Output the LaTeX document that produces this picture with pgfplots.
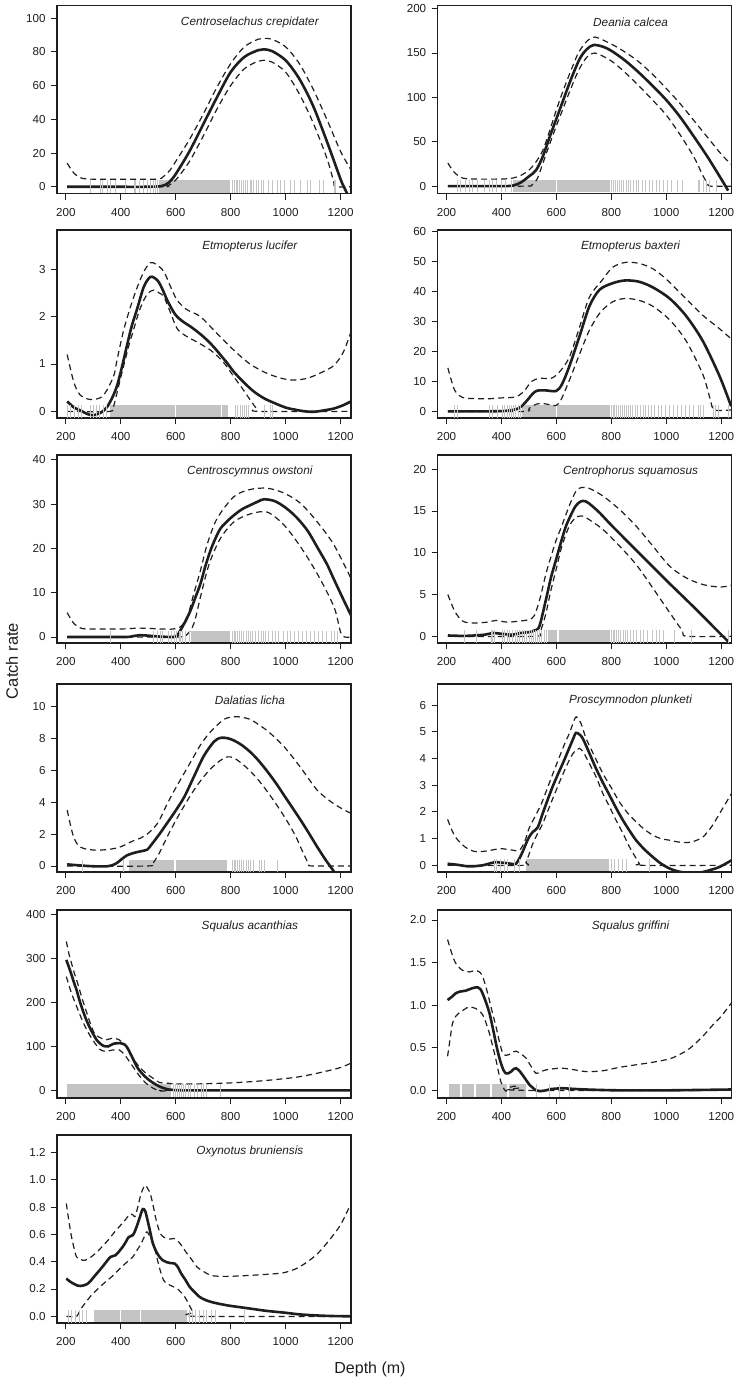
\documentclass[border=0pt]{standalone}
\usepackage{fontspec}
\setmainfont{Liberation Sans}
\usepackage{pgfplots}
\pgfplotsset{compat=1.18}
\definecolor{rugc}{RGB}{196,196,196}
\definecolor{ink}{RGB}{30,30,30}
\pgfplotsset{
  panel/.style={
    scale only axis, width=294pt, height=188pt,
    xmin=168, xmax=1238,
    xtick={200,400,...,1200},
    tick pos=left, tick align=outside,
    major tick length=6pt,
    axis on top,
    axis line style={line width=1.1pt, ink},
    every tick/.style={line width=0.9pt, ink},
    ticklabel style={font=\fontsize{11.6}{13}\selectfont, text=ink},
    xticklabel style={yshift=-5pt},
    yticklabel style={xshift=-2pt},
    /pgf/number format/1000 sep={},
    /pgf/number format/assume math mode=true,
    anchor=north west,
  },
  fit/.style={line width=2.6pt, ink, smooth},
  ci/.style={line width=1.2pt, ink, dash pattern=on 6pt off 4pt, smooth},
  rugt/.style={only marks, mark=|, mark size=6.3pt, mark options={line width=0.7pt, draw=rugc}},
  rugb/.style={draw=rugc, line width=12.6pt},
}
\newcommand{\ttl}[1]{\node[font=\itshape\fontsize{11.8}{13}\selectfont, text=ink] at (axis description cs:0.656,0.912) {#1};}
\begin{document}
\begin{tikzpicture}
\path[use as bounding box] (0,0) rectangle (739pt,-1384pt);

% ---------- P1 Centroselachus crepidater
\begin{axis}[panel, at={(57pt,-5.5pt)}, ymin=-4, ymax=107.5, ytick={0,20,...,100}]
\addplot[rugb] coordinates {(540,0)(796,0)};
\addplot[rugt] coordinates {(290,0)(326,0)(332,0)(350,0)(363,0)(381,0)(417,0)(448,0)(454,0)(466,0)(484,0)(496,0)(508,0)(520,0)(526,0)(533,0)(806,0)(812,0)(820,0)(826,0)(833,0)(840,0)(846,0)(855,0)(862,0)(870,0)(876,0)(884,0)(892,0)(900,0)(910,0)(918,0)(939,0)(951,0)(969,0)(982,0)(994,0)(1018,0)(1030,0)(1054,0)(1079,0)(1091,0)(1121,0)(1139,0)(1176,0)(1182,0)};
\addplot[ci] coordinates {(205,14)(230,8)(260,5)(300,4.5)(400,4.5)(530,4.5)(555,6)(580,10)(600,15)(650,28)(700,43)(750,59)(800,73)(850,83)(900,87.5)(920,88)(950,87.5)(1000,83)(1050,73)(1100,58)(1150,40)(1200,21)(1238,10)};
\addplot[ci] coordinates {(205,0)(540,0)(570,0.5)(600,4)(650,15)(700,30)(750,46)(800,60)(850,70)(900,74.5)(920,75)(950,74)(1000,68)(1050,55)(1100,38)(1150,17)(1175,3)(1180,0)(1238,0)};
\addplot[fit] coordinates {(205,0)(350,0)(500,0)(550,0.5)(575,2.5)(600,7.5)(650,21)(700,37)(750,53)(800,68)(850,77)(900,81)(920,81.5)(950,80.5)(1000,75)(1050,64)(1100,48)(1150,27)(1200,4.5)(1212,0)(1230,-6)};
\ttl{Centroselachus crepidater}
\end{axis}

% ---------- P2 Deania calcea
\begin{axis}[panel, at={(437.7pt,-5.5pt)}, ymin=-8.3, ymax=203.5, ytick={0,50,...,200}]
\addplot[rugb] coordinates {(441,0)(597,0)};
\addplot[rugb] coordinates {(601,0)(795,0)};
\addplot[rugt] coordinates {(240,0)(252,0)(270,0)(283,0)(295,0)(313,0)(337,0)(356,0)(368,0)(380,0)(398,0)(416,0)(435,0)(800,0)(808,0)(815,0)(822,0)(830,0)(838,0)(845,0)(855,0)(862,0)(870,0)(880,0)(890,0)(900,0)(912,0)(925,0)(940,0)(950,0)(962,0)(975,0)(990,0)(1005,0)(1020,0)(1040,0)(1058,0)(1115,0)(1121,0)(1133,0)(1145,0)(1158,0)(1182,0)};
\addplot[ci] coordinates {(205,26)(230,15)(260,9)(300,8)(400,8)(440,9)(470,12)(500,18)(525,27)(550,40)(575,62)(600,86)(625,108)(650,128)(680,150)(710,163)(740,168)(800,160)(850,151)(900,140)(950,126)(1000,110)(1050,93)(1100,74)(1150,55)(1200,36)(1238,24)};
\addplot[ci] coordinates {(205,0)(480,0)(510,1)(530,8)(550,25)(575,47)(600,68)(625,88)(650,108)(680,130)(710,145)(740,150)(800,141)(850,128)(900,113)(950,97)(1000,80)(1050,58)(1100,33)(1133,12)(1150,3)(1160,0)(1238,0)};
\addplot[fit] coordinates {(205,0)(300,0)(400,0)(440,0.5)(470,4)(500,11)(526,18)(550,33)(575,55)(600,76)(625,97)(650,118)(684,143)(710,154)(735,159)(770,157)(800,152.5)(850,141.5)(900,128)(950,113)(1000,97)(1050,78)(1100,56)(1150,33)(1200,8)(1225,-5)};
\ttl{Deania calcea}
\end{axis}

% ---------- P3 Etmopterus lucifer
\begin{axis}[panel, at={(57pt,-230pt)}, ymin=-0.141, ymax=3.83, ytick={0,1,2,3}]
\addplot[rugb] coordinates {(360,0)(596,0)};
\addplot[rugb] coordinates {(601,0)(764,0)};
\addplot[rugb] coordinates {(769,0)(790,0)};
\addplot[rugt] coordinates {(205,0)(216,0)(230,0)(246,0)(258,0)(290,0)(300,0)(310,0)(322,0)(335,0)(348,0)(818,0)(826,0)(835,0)(842,0)(850,0)(858,0)(866,0)(921,0)(945,0)(951,0)};
\addplot[ci] coordinates {(205,1.2)(230,0.6)(253,0.34)(280,0.26)(302,0.25)(330,0.3)(350,0.45)(375,0.76)(387,1.1)(410,1.7)(435,2.2)(460,2.62)(484,2.95)(508,3.14)(530,3.1)(557,2.95)(580,2.65)(605,2.35)(640,2.15)(690,2.0)(751,1.64)(812,1.29)(870,1.0)(933,0.8)(990,0.69)(1030,0.66)(1080,0.7)(1130,0.82)(1176,0.97)(1210,1.25)(1238,1.68)};
\addplot[ci] coordinates {(205,0)(360,0)(375,0.13)(393,0.55)(411,0.97)(430,1.4)(448,1.75)(466,2.1)(484,2.35)(500,2.5)(520,2.56)(540,2.5)(557,2.42)(580,2.1)(605,1.75)(635,1.6)(666,1.5)(697,1.4)(727,1.29)(755,1.15)(783,0.97)(813,0.72)(843,0.48)(870,0.25)(892,0.07)(900,0)(1238,0)};
\addplot[fit] coordinates {(205,0.21)(230,0.08)(253,0.02)(280,-0.06)(302,-0.08)(330,-0.02)(350,0.09)(370,0.3)(387,0.55)(405,0.95)(423,1.4)(440,1.8)(460,2.17)(484,2.63)(508,2.84)(533,2.77)(550,2.6)(569,2.35)(590,2.12)(605,2.0)(630,1.88)(654,1.79)(690,1.63)(715,1.5)(740,1.35)(763,1.19)(790,1.0)(812,0.83)(850,0.6)(884,0.42)(920,0.28)(957,0.18)(1000,0.08)(1030,0.04)(1070,0.0)(1103,-0.01)(1140,0.02)(1176,0.06)(1210,0.13)(1238,0.21)};
\ttl{Etmopterus lucifer}
\end{axis}

% ---------- P4 Etmopterus baxteri
\begin{axis}[panel, at={(437.7pt,-230pt)}, ymin=-2.2, ymax=60.4, ytick={0,10,...,60}]
\addplot[rugb] coordinates {(474,0)(597,0)};
\addplot[rugb] coordinates {(601,0)(795,0)};
\addplot[rugt] coordinates {(228,0)(240,0)(356,0)(368,0)(386,0)(404,0)(412,0)(420,0)(428,0)(436,0)(444,0)(452,0)(460,0)(468,0)(800,0)(806,0)(812,0)(818,0)(826,0)(833,0)(840,0)(848,0)(855,0)(862,0)(870,0)(878,0)(886,0)(895,0)(905,0)(915,0)(925,0)(935,0)(945,0)(958,0)(970,0)(982,0)(995,0)(1010,0)(1025,0)(1040,0)(1055,0)(1070,0)(1085,0)(1100,0)(1115,0)(1125,0)(1133,0)(1170,0)(1180,0)(1188,0)(1224,0)};
\addplot[ci] coordinates {(205,14.5)(230,7)(260,4.6)(300,4.3)(350,4.2)(400,4.5)(450,4.8)(480,6.5)(510,10)(540,11)(580,11)(610,13)(647,18)(684,28)(720,38)(769,44)(805,48)(850,49.6)(900,49.3)(951,47.5)(1000,44)(1072,37.5)(1133,32)(1194,27.5)(1238,24)};
\addplot[ci] coordinates {(205,0)(480,0)(500,1)(530,2.5)(560,2.5)(600,2)(620,4.5)(650,11)(684,19)(720,27)(760,33)(805,36.5)(850,37.6)(900,37)(951,35)(1012,30.5)(1072,23.5)(1133,12.3)(1160,4)(1175,0.5)(1238,0.5)};
\addplot[fit] coordinates {(205,0)(300,0)(400,0.1)(441,0.5)(465,1.1)(485,2.8)(501,4.5)(515,6)(530,6.9)(560,7.0)(599,6.8)(620,9)(647,15)(684,25)(720,35)(757,40.5)(805,42.7)(850,43.6)(900,43.2)(951,41.3)(1012,37.6)(1072,31.8)(1133,23.4)(1194,11.7)(1236,1.7)};
\ttl{Etmopterus baxteri}
\end{axis}

% ---------- P5 Centroscymnus owstoni
\begin{axis}[panel, at={(57pt,-455pt)}, ymin=-1.36, ymax=41.1, ytick={0,10,...,40}]
\addplot[rugb] coordinates {(655,0)(797,0)};
\addplot[rugt] coordinates {(363,0)(520,0)(533,0)(545,0)(551,0)(575,0)(585,0)(594,0)(603,0)(612,0)(617,0)(623,0)(636,0)(648,0)(805,0)(812,0)(818,0)(825,0)(832,0)(840,0)(848,0)(856,0)(865,0)(873,0)(880,0)(890,0)(900,0)(910,0)(918,0)(928,0)(938,0)(950,0)(962,0)(975,0)(990,0)(1005,0)(1018,0)(1030,0)(1045,0)(1060,0)(1075,0)(1090,0)(1105,0)(1120,0)(1135,0)(1150,0)(1165,0)(1176,0)(1190,0)};
\addplot[ci] coordinates {(205,5.5)(230,3)(260,1.9)(300,1.8)(400,1.8)(470,2.0)(550,1.8)(590,1.8)(617,2.3)(642,4.5)(666,9.8)(690,15)(715,21)(751,26.8)(812,31.7)(870,33.3)(933,33.6)(994,32.5)(1054,30.2)(1115,26)(1176,20.8)(1238,13.2)};
\addplot[ci] coordinates {(205,0)(600,0)(640,0.5)(666,3)(690,9)(708,13.5)(727,17.4)(763,22.3)(812,26)(872,27.8)(933,28.2)(994,25.3)(1054,20.4)(1115,14.3)(1176,6.8)(1200,1.1)(1215,0)(1238,0)};
\addplot[fit] coordinates {(205,0)(300,0)(420,0)(445,0.2)(470,0.4)(500,0.3)(540,0.1)(593,0)(605,0.3)(617,1.5)(635,3.5)(654,6)(672,9)(690,12)(708,16)(727,19.6)(745,22.3)(763,24.5)(790,26.3)(812,27.5)(840,28.8)(872,29.8)(900,30.6)(921,31.1)(960,30.7)(1000,29.2)(1040,27)(1080,24)(1115,20.3)(1150,16.5)(1176,13)(1210,8.5)(1238,4.9)};
\ttl{Centroscymnus owstoni}
\end{axis}

% ---------- P6 Centrophorus squamosus
\begin{axis}[panel, at={(437.7pt,-455pt)}, ymin=-0.8, ymax=21.7, ytick={0,5,...,20}]
\addplot[rugb] coordinates {(570,0)(603,0)};
\addplot[rugb] coordinates {(608,0)(796,0)};
\addplot[rugt] coordinates {(264,0)(307,0)(362,0)(368,0)(374,0)(404,0)(412,0)(420,0)(430,0)(440,0)(450,0)(458,0)(465,0)(477,0)(485,0)(492,0)(500,0)(508,0)(515,0)(522,0)(530,0)(538,0)(546,0)(555,0)(562,0)(800,0)(806,0)(812,0)(818,0)(826,0)(834,0)(842,0)(850,0)(860,0)(870,0)(880,0)(892,0)(905,0)(918,0)(932,0)(948,0)(962,0)(975,0)(988,0)(1030,0)(1091,0)(1224,0)};
\addplot[ci] coordinates {(205,5)(230,3)(260,1.8)(300,1.6)(350,1.7)(380,1.9)(420,1.7)(460,1.8)(500,2.0)(520,2.5)(540,4.5)(562,7.5)(580,9.5)(599,11.5)(617,13)(635,14.6)(654,16.2)(672,17.4)(690,17.8)(720,17.7)(769,16.8)(829,15.2)(890,13.2)(951,10.8)(1012,8.4)(1072,7)(1133,6.2)(1194,5.9)(1238,6.1)};
\addplot[ci] coordinates {(205,0)(520,0)(540,0.5)(560,2.5)(580,5.5)(599,8)(620,10.8)(647,13.2)(670,14.2)(690,14.4)(708,14.2)(769,12.8)(830,10.8)(890,8.6)(940,6.3)(988,4)(1030,2)(1060,0.6)(1075,0)(1238,0)};
\addplot[fit] coordinates {(205,0.1)(260,0.05)(300,0.1)(340,0.2)(370,0.4)(400,0.3)(440,0.2)(470,0.4)(500,0.5)(520,0.7)(538,1.2)(562,4.4)(580,7)(599,9.2)(617,11.3)(635,13.2)(654,14.6)(668,15.5)(682,16.0)(695,16.2)(710,16.1)(730,15.6)(760,14.7)(800,13.3)(900,10.0)(1000,6.7)(1100,3.5)(1206,0)(1225,-0.6)};
\ttl{Centrophorus squamosus}
\end{axis}

% ---------- P7 Dalatias licha
\begin{axis}[panel, at={(57pt,-684pt)}, ymin=-0.38, ymax=11.43, ytick={0,2,...,10}]
\addplot[rugb] coordinates {(430,0)(594,0)};
\addplot[rugb] coordinates {(600,0)(787,0)};
\addplot[rugt] coordinates {(259,0)(411,0)(805,0)(812,0)(818,0)(826,0)(833,0)(840,0)(848,0)(856,0)(865,0)(873,0)(884,0)(903,0)(912,0)(921,0)(969,0)};
\addplot[ci] coordinates {(205,3.5)(218,2.5)(229,1.8)(245,1.3)(265,1.1)(300,1.0)(326,1.0)(360,1.05)(399,1.2)(448,1.6)(472,1.75)(496,2.0)(515,2.3)(533,2.66)(550,3.2)(569,3.9)(600,4.9)(630,5.8)(660,6.7)(690,7.6)(720,8.3)(751,8.85)(780,9.25)(812,9.37)(840,9.35)(872,9.2)(900,8.9)(933,8.5)(965,8.0)(994,7.5)(1025,6.85)(1054,6.2)(1085,5.45)(1115,4.76)(1145,4.3)(1176,3.9)(1205,3.6)(1238,3.3)};
\addplot[ci] coordinates {(205,0)(500,0)(520,0.25)(540,0.8)(557,1.4)(580,2.2)(605,3.0)(635,3.9)(666,4.76)(697,5.5)(727,6.1)(760,6.6)(787,6.85)(810,6.8)(836,6.5)(866,6.05)(896,5.5)(926,4.85)(957,4.1)(988,3.3)(1018,2.45)(1040,1.75)(1054,1.2)(1070,0.6)(1085,0.1)(1097,0)(1238,0)};
\addplot[fit] coordinates {(205,0.1)(240,0.05)(278,0)(320,-0.03)(350,-0.02)(370,0.05)(387,0.2)(405,0.45)(423,0.67)(448,0.82)(472,0.92)(496,1.02)(510,1.3)(530,1.75)(545,2.1)(569,2.7)(593,3.3)(630,4.3)(666,5.6)(702,6.9)(739,7.8)(763,8.05)(790,8.02)(812,7.88)(840,7.6)(872,7.15)(900,6.65)(933,5.95)(965,5.2)(994,4.45)(1025,3.65)(1054,2.9)(1085,2.05)(1115,1.2)(1145,0.4)(1176,-0.35)(1195,-0.85)};
\ttl{Dalatias licha}
\end{axis}

% ---------- P8 Proscymnodon plunketi
\begin{axis}[panel, at={(437.7pt,-684pt)}, ymin=-0.25, ymax=6.79, ytick={0,1,...,6}]
\addplot[rugb] coordinates {(489,0)(790,0)};
\addplot[rugt] coordinates {(374,0)(380,0)(395,0)(410,0)(420,0)(448,0)(465,0)(800,0)(812,0)(825,0)(840,0)(855,0)(940,0)};
\addplot[ci] coordinates {(204,1.72)(230,1.1)(266,0.7)(302,0.52)(340,0.53)(380,0.6)(404,0.62)(440,0.57)(465,0.56)(485,0.9)(501,1.4)(526,1.9)(545,2.3)(562,2.75)(586,3.4)(611,4.06)(630,4.55)(647,4.94)(660,5.3)(672,5.56)(690,5.3)(708,4.75)(738,4.1)(769,3.44)(800,2.9)(829,2.38)(860,1.95)(890,1.63)(920,1.35)(951,1.13)(980,1.0)(1012,0.94)(1040,0.88)(1072,0.85)(1100,0.9)(1133,1.06)(1165,1.45)(1194,1.94)(1238,2.7)};
\addplot[ci] coordinates {(204,0)(480,0)(489,0.1)(500,0.4)(514,0.81)(532,1.2)(550,1.56)(575,2.2)(599,2.81)(623,3.4)(647,3.94)(665,4.25)(684,4.38)(700,4.2)(720,3.81)(745,3.3)(769,2.69)(793,2.2)(817,1.69)(842,1.2)(866,0.69)(885,0.35)(902,0.06)(910,0)(1238,0)};
\addplot[fit] coordinates {(204,0.06)(240,0.02)(283,-0.04)(331,0)(360,0.08)(380,0.12)(400,0.1)(416,0.09)(440,0.05)(453,0.06)(470,0.35)(489,0.8)(500,1.05)(514,1.25)(532,1.42)(550,1.94)(568,2.45)(586,2.94)(605,3.4)(623,3.81)(641,4.25)(659,4.69)(671,4.96)(684,4.9)(696,4.75)(720,4.2)(744,3.63)(769,3.1)(793,2.63)(817,2.15)(842,1.69)(866,1.3)(890,0.94)(920,0.6)(951,0.31)(980,0.07)(1012,-0.12)(1040,-0.22)(1072,-0.28)(1100,-0.29)(1133,-0.25)(1165,-0.16)(1194,-0.06)(1238,0.19)};
\ttl{Proscymnodon plunketi}
\end{axis}

% ---------- P9 Squalus acanthias
\begin{axis}[panel, at={(57pt,-910pt)}, ymin=-17.4, ymax=410.6, ytick={0,100,...,400}]
\addplot[rugb] coordinates {(205,0)(582,0)};
\addplot[rugt] coordinates {(590,0)(598,0)(605,0)(612,0)(620,0)(628,0)(636,0)(645,0)(655,0)(668,0)(680,0)(692,0)(700,0)(712,0)(762,0)};
\addplot[ci] coordinates {(202,339)(211,312)(221,289)(232,265)(243,244)(258,212)(273,183)(288,155)(304,130)(322,121)(346,115)(371,119)(395,115)(407,108)(419,100)(431,87)(444,73.5)(462,58)(480,45.5)(498,36)(517,28)(541,18)(565,16.7)(600,14.5)(650,14.4)(700,15)(800,17)(900,21)(1000,27)(1050,31)(1100,37)(1150,44)(1200,52)(1238,62)};
\addplot[ci] coordinates {(202,259)(213,236)(225,214)(237,195)(249,176)(261,158)(273,142)(285,128)(298,115)(310,104)(322,94)(334,90)(346,88.6)(371,92)(395,92)(407,86)(419,77)(431,66)(444,54.5)(462,38)(480,24)(498,13)(517,5.3)(530,1)(545,-1.5)(565,-1)(585,0)(1238,0)};
\addplot[fit] coordinates {(202,297)(210,283)(221,263)(230,245)(239,229)(250,205)(263,180)(275,160)(288,142)(300,128)(312,115)(324,107)(336,101.5)(354,100)(373,106)(397,107.6)(415,104)(425,96)(434,85)(446,70)(458,54.5)(470,44)(482,35.6)(500,25)(519,16.7)(537,10)(555,5.3)(575,2)(592,0.8)(620,0.2)(700,0)(1238,0)};
\ttl{Squalus acanthias}
\end{axis}

% ---------- P10 Squalus griffini
\begin{axis}[panel, at={(437.7pt,-910pt)}, ymin=-0.09, ymax=2.117, ytick={0,0.5,1,1.5,2}, yticklabels={0.0,0.5,1.0,1.5,2.0}]
\addplot[rugb] coordinates {(210,0)(250,0)};
\addplot[rugb] coordinates {(256,0)(300,0)};
\addplot[rugb] coordinates {(306,0)(360,0)};
\addplot[rugb] coordinates {(366,0)(420,0)};
\addplot[rugb] coordinates {(426,0)(489,0)};
\addplot[rugt] coordinates {(526,0)(574,0)(611,0)(647,0)};
\addplot[ci] coordinates {(204,1.77)(220,1.6)(234,1.49)(258,1.41)(283,1.39)(307,1.41)(320,1.39)(331,1.34)(343,1.22)(356,1.06)(368,0.9)(380,0.75)(392,0.58)(404,0.44)(416,0.41)(428,0.42)(440,0.45)(453,0.46)(470,0.43)(489,0.38)(508,0.28)(526,0.2)(545,0.22)(562,0.24)(611,0.26)(650,0.25)(708,0.22)(769,0.23)(829,0.27)(890,0.3)(951,0.33)(1012,0.37)(1048,0.42)(1080,0.48)(1109,0.56)(1140,0.66)(1170,0.77)(1200,0.87)(1238,1.03)};
\addplot[ci] coordinates {(204,0.4)(213,0.6)(222,0.79)(234,0.87)(246,0.91)(265,0.95)(283,0.98)(307,0.96)(320,0.93)(331,0.89)(343,0.8)(356,0.67)(368,0.52)(380,0.36)(389,0.22)(398,0.1)(407,0.03)(416,-0.01)(425,0.02)(435,0.04)(453,0.05)(465,0.03)(477,0)(1238,0)};
\addplot[fit] coordinates {(204,1.06)(220,1.1)(234,1.14)(250,1.16)(270,1.17)(295,1.2)(313,1.21)(323,1.19)(331,1.14)(343,1.04)(356,0.91)(368,0.74)(380,0.55)(390,0.41)(398,0.32)(407,0.24)(416,0.2)(425,0.2)(435,0.22)(445,0.25)(453,0.26)(465,0.23)(477,0.18)(490,0.12)(501,0.07)(514,0.03)(526,0)(540,-0.01)(562,0)(580,0.015)(599,0.02)(620,0.025)(647,0.02)(708,0.01)(829,0)(1000,0)(1238,0.01)};
\ttl{Squalus griffini}
\end{axis}

% ---------- P11 Oxynotus bruniensis
\begin{axis}[panel, at={(57pt,-1135pt)}, ymin=-0.049, ymax=1.327, ytick={0,0.2,0.4,0.6,0.8,1.0,1.2}, yticklabels={0.0,0.2,0.4,0.6,0.8,1.0,1.2}]
\addplot[rugb] coordinates {(304,0)(396,0)};
\addplot[rugb] coordinates {(401,0)(470,0)};
\addplot[rugb] coordinates {(475,0)(640,0)};
\addplot[rugt] coordinates {(210,0)(222,0)(235,0)(248,0)(262,0)(275,0)(650,0)(660,0)(672,0)(685,0)(700,0)(712,0)(728,0)(745,0)(850,0)};
\addplot[ci] coordinates {(202,0.826)(211,0.7)(221,0.58)(230,0.5)(239,0.435)(254,0.415)(269,0.41)(285,0.425)(300,0.447)(318,0.48)(337,0.52)(355,0.56)(373,0.606)(392,0.65)(410,0.69)(422,0.72)(434,0.75)(443,0.745)(452,0.73)(462,0.8)(471,0.875)(480,0.93)(489,0.96)(498,0.935)(507,0.9)(517,0.82)(526,0.73)(535,0.66)(544,0.606)(556,0.58)(568,0.57)(580,0.565)(593,0.57)(605,0.555)(617,0.53)(629,0.495)(641,0.46)(660,0.41)(678,0.36)(700,0.33)(727,0.3)(760,0.293)(800,0.293)(873,0.3)(950,0.31)(995,0.32)(1040,0.35)(1080,0.4)(1117,0.46)(1160,0.56)(1200,0.67)(1238,0.826)};
\addplot[ci] coordinates {(202,0)(240,0)(251,0.044)(270,0.095)(288,0.142)(306,0.18)(324,0.215)(349,0.26)(373,0.3)(392,0.34)(410,0.374)(427,0.405)(444,0.435)(458,0.48)(471,0.52)(483,0.57)(495,0.618)(507,0.58)(519,0.533)(528,0.46)(537,0.386)(546,0.32)(556,0.264)(568,0.24)(580,0.227)(593,0.215)(605,0.203)(617,0.18)(629,0.154)(641,0.115)(653,0.068)(663,0.03)(672,0)(1238,0)};
\addplot[fit] coordinates {(202,0.276)(215,0.255)(229,0.238)(241,0.226)(253,0.222)(265,0.226)(277,0.235)(290,0.258)(302,0.288)(320,0.33)(338,0.374)(350,0.405)(363,0.435)(381,0.447)(396,0.48)(411,0.52)(420,0.55)(429,0.58)(444,0.594)(453,0.63)(462,0.68)(471,0.735)(480,0.785)(489,0.77)(498,0.70)(507,0.62)(517,0.533)(529,0.475)(541,0.435)(553,0.41)(565,0.398)(580,0.39)(596,0.386)(608,0.36)(620,0.313)(636,0.265)(651,0.215)(670,0.175)(687,0.142)(710,0.118)(739,0.1)(788,0.08)(830,0.068)(873,0.056)(930,0.04)(995,0.027)(1052,0.014)(1117,0.006)(1174,0.002)(1238,0)};
\ttl{Oxynotus bruniensis}
\end{axis}

\node[rotate=90, font=\fontsize{16.5}{18}\selectfont, text=ink] at (12pt,-661pt) {Catch rate};
\node[font=\fontsize{16}{18}\selectfont, text=ink] at (370pt,-1369pt) {Depth (m)};
\end{tikzpicture}
\end{document}
